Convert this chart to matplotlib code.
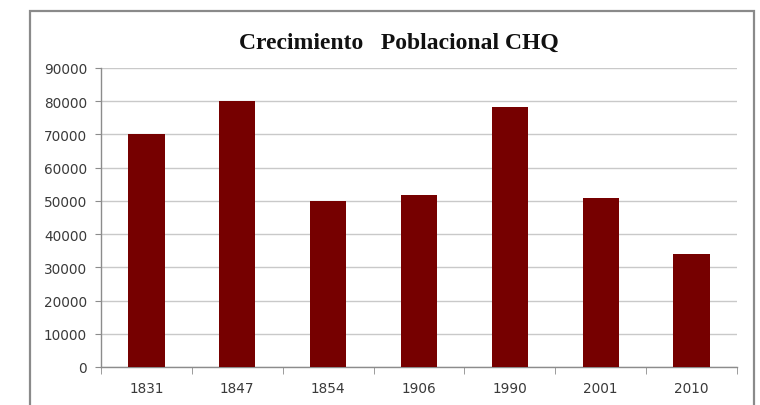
import matplotlib.pyplot as plt
from matplotlib.patches import Rectangle
import numpy as np

# data
years = ['1831', '1847', '1854', '1906', '1990', '2001', '2010']
population = [70000, 80000, 50000, 51800, 78400, 50800, 34100]
y_ticks = list(range(0, 90001, 10000))

BAR_COLOR = '#760000'
GRID_COLOR = '#c9c9c9'
AXIS_COLOR = '#8c8c8c'
TEXT_COLOR = '#3a3a3a'

fig = plt.figure(figsize=(7.6, 4.06), dpi=100)
fig.patch.set_facecolor('white')

# outer chart frame
fig.patches.append(Rectangle((30 / 760, -0.2), (754 - 30) / 760, 1.2 - 12 / 406,
                             transform=fig.transFigure, fill=False,
                             edgecolor='#8a8a8a', linewidth=1.6))

ax = fig.add_axes([101 / 760, 1 - 368 / 406, (737 - 101) / 760, (368 - 69) / 406])
x = np.arange(len(years))
ax.bar(x, population, width=0.4, color=BAR_COLOR, zorder=3)

ax.set_xlim(-0.5, len(years) - 0.5)
ax.set_ylim(0, 90000)
ax.set_yticks(y_ticks)
ax.set_yticklabels([str(v) for v in y_ticks])
ax.yaxis.grid(True, color=GRID_COLOR, linewidth=1.0, zorder=0)

# category labels centred, tick marks between categories
ax.set_xticks(x)
ax.set_xticklabels(years)
ax.set_xticks(np.arange(-0.5, len(years) + 0.5, 1), minor=True)
ax.tick_params(axis='x', which='major', length=0, pad=10)
ax.tick_params(axis='x', which='minor', length=5, color=AXIS_COLOR, direction='out')
ax.tick_params(axis='y', length=4, color=AXIS_COLOR, pad=6)
ax.tick_params(labelsize=9.8, labelcolor=TEXT_COLOR)

for side in ['top', 'right']:
    ax.spines[side].set_visible(False)
for side in ['left', 'bottom']:
    ax.spines[side].set_color(AXIS_COLOR)
    ax.spines[side].set_linewidth(1.0)

fig.text(399 / 760, 1 - 43 / 406, 'Crecimiento   Poblacional CHQ',
         ha='center', va='center', fontsize=17, fontweight='bold',
         family='Liberation Serif', color='#111111')

fig.savefig('out.png', dpi=100)
